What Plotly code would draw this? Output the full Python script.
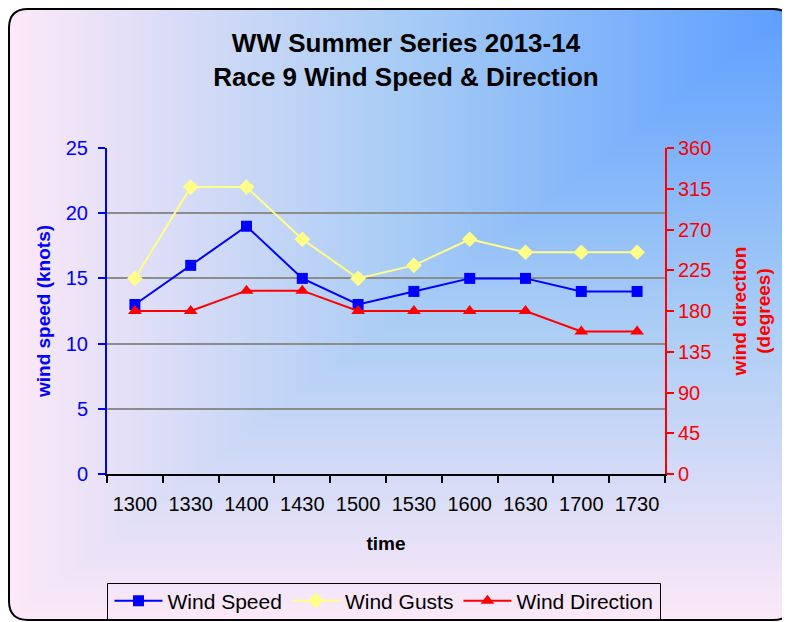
import base64, struct, zlib
import numpy as np
import plotly.graph_objects as go

# ---------------- data ----------------
times = ["1300", "1330", "1400", "1430", "1500", "1530", "1600", "1630", "1700", "1730"]
wind_speed = [13, 16, 19, 15, 13, 14, 15, 15, 14, 14]
wind_gusts = [15, 22, 22, 18, 15, 16, 18, 17, 17, 17]
wind_direction = [180, 180, 202.5, 202.5, 180, 180, 180, 180, 157.5, 157.5]

# ---------------- canvas geometry (figure coords; page has 8px body margin) ----------------
W, H = 790, 614
L, R, T, B = 99, 133, 140, 148
PW, PH = W - L - R, H - T - B
BOX = (1.0, 1.0, 784.0, 612.0, 19.0)  # left, top, right, bottom, corner radius (figure px)


def px_x(x):
    return (x - L) / PW


def px_y(y):
    return (T + PH - y) / PH


def make_background():
    yy, xx = np.mgrid[0:H, 0:W].astype(float) + 0.5
    bx0, by0, bx1, by1, rad = BOX
    cx, cy = (bx0 + bx1) / 2, (by0 + by1) / 2
    hx, hy = (bx1 - bx0) / 2, (by1 - by0) / 2
    qx = np.abs(xx - cx) - hx + rad
    qy = np.abs(yy - cy) - hy + rad
    d = np.hypot(np.maximum(qx, 0), np.maximum(qy, 0)) + np.minimum(np.maximum(qx, qy), 0) - rad
    u = np.clip((xx - bx0) / (bx1 - bx0), 0, 1)
    v = np.clip((yy - by0) / (by1 - by0), 0, 1)
    t = np.clip(1 - np.maximum(1 - u, v), 0, 1)
    stops_t = [0.0, 0.5, 1.0]
    stops_c = np.array([[252, 232, 248], [168, 204, 245], [92, 158, 255]], float)
    rgb = np.stack([np.interp(t, stops_t, stops_c[:, k]) for k in range(3)], axis=-1)
    alpha = np.clip(0.5 - d, 0, 1)
    img = np.concatenate([rgb, alpha[..., None] * 255], axis=-1)
    img = np.clip(np.round(img), 0, 255).astype(np.int16)
    flat = img.reshape(H, W * 4)
    sub = flat.copy()
    sub[:, 4:] = (flat[:, 4:] - flat[:, :-4]) % 256
    raw = np.concatenate([np.ones((H, 1), np.int16), sub], axis=1).astype(np.uint8).tobytes()

    def chunk(tag, data):
        c = struct.pack(">I", len(data)) + tag + data
        return c + struct.pack(">I", zlib.crc32(tag + data) & 0xFFFFFFFF)

    png = b"\x89PNG\r\n\x1a\n" + chunk(b"IHDR", struct.pack(">IIBBBBB", W, H, 8, 6, 0, 0, 0))
    png += chunk(b"IDAT", zlib.compress(raw, 9)) + chunk(b"IEND", b"")
    return "data:image/png;base64," + base64.b64encode(png).decode()


def border_path():
    x0, y0, x1, y1, r = BOX
    pts = lambda x, y: f"{px_x(x):.5f},{px_y(y):.5f}"
    return (f"M{pts(x0 + r, y0)} L{pts(x1 - r, y0)} Q{pts(x1, y0)} {pts(x1, y0 + r)} "
            f"L{pts(x1, y1 - r)} Q{pts(x1, y1)} {pts(x1 - r, y1)} "
            f"L{pts(x0 + r, y1)} Q{pts(x0, y1)} {pts(x0, y1 - r)} "
            f"L{pts(x0, y0 + r)} Q{pts(x0, y0)} {pts(x0 + r, y0)} Z")


FONT = "Liberation Sans, Arial, sans-serif"
BLUE = "#0000ff"
RED = "#ff0000"
YEL = "#ffff88"

fig = go.Figure()
fig.add_trace(go.Scatter(
    x=times, y=wind_speed, name="Wind Speed", mode="lines+markers",
    line=dict(color=BLUE, width=2),
    marker=dict(symbol="square", size=11, color=BLUE), yaxis="y"))
fig.add_trace(go.Scatter(
    x=times, y=wind_gusts, name="Wind Gusts", mode="lines+markers",
    line=dict(color=YEL, width=2),
    marker=dict(symbol="diamond", size=12, color=YEL), yaxis="y"))
fig.add_trace(go.Scatter(
    x=times, y=wind_direction, name="Wind Direction", mode="lines+markers",
    line=dict(color=RED, width=2),
    marker=dict(symbol="triangle-up", size=12, color=RED), yaxis="y2"))

fig.update_layout(
    width=W, height=H,
    margin=dict(l=L, r=R, t=T, b=B, autoexpand=False),
    paper_bgcolor="white", plot_bgcolor="rgba(0,0,0,0)",
    font=dict(family=FONT, size=20, color="black"),
    title=dict(text="<b>WW Summer Series 2013-14<br>Race 9 Wind Speed & Direction</b>",
               x=398 / W, xanchor="center", y=1 - 44 / H, yanchor="middle",
               font=dict(family=FONT, size=26, color="black")),
    showlegend=True,
    legend=dict(orientation="h", x=px_x(376), xanchor="center",
                y=px_y(593), yanchor="middle",
                bgcolor="rgba(0,0,0,0)", borderwidth=0,
                font=dict(family=FONT, size=21, color="black"), itemwidth=48),
    shapes=[dict(type="rect", xref="paper", yref="paper",
                 x0=px_x(99.5), x1=px_x(652.5), y0=px_y(611.5), y1=px_y(575.5),
                 line=dict(color="black", width=1), fillcolor="rgba(0,0,0,0)", layer="above"),
            dict(type="path", xref="paper", yref="paper", path=border_path(),
                 line=dict(color="black", width=2), fillcolor="rgba(0,0,0,0)", layer="above")],
    xaxis=dict(type="category", range=[-0.5, 9.5], showgrid=False, zeroline=False,
               showline=True, linecolor="black", linewidth=2,
               ticks="outside", ticklen=7, tickwidth=1.5, tickcolor="black", tickson="boundaries",
               tickfont=dict(size=20, color="black"), ticklabelstandoff=11,
               title=dict(text="<b>time</b>", font=dict(size=19, color="black"), standoff=23)),
    xaxis2=dict(overlaying="x", anchor="y", range=[-0.5, 9.5], tickvals=[i - 0.5 for i in range(11)],
                ticks="inside", ticklen=6, tickwidth=1.5, tickcolor="black", showticklabels=False,
                showgrid=False, zeroline=False, showline=False, side="bottom"),
    yaxis=dict(range=[0, 25], dtick=5, showgrid=True, gridcolor="#8c8c8c", gridwidth=2,
               zeroline=False, showline=True, linecolor=BLUE, linewidth=2,
               ticks="outside", ticklen=7, tickwidth=1.5, tickcolor=BLUE,
               tickfont=dict(size=20, color=BLUE), ticklabelstandoff=6,
               title=dict(text="<b>wind speed (knots)</b>", font=dict(size=19, color=BLUE), standoff=10)),
    yaxis2=dict(range=[0, 360], dtick=45, overlaying="y", side="right", anchor="x",
                showgrid=False, zeroline=False, showline=True, linecolor=RED, linewidth=2,
                ticks="outside", ticklen=7, tickwidth=1.5, tickcolor=RED,
                tickfont=dict(size=20, color=RED),
                title=dict(text="<b>wind direction<br>(degrees)</b>", font=dict(size=19, color=RED), standoff=22)),
    yaxis3=dict(range=[0, 25], dtick=5, overlaying="y", side="left", anchor="x",
                ticks="inside", ticklen=6, tickwidth=1.5, tickcolor=BLUE, showticklabels=False,
                showgrid=False, zeroline=False, showline=False),
    yaxis4=dict(range=[0, 360], dtick=45, overlaying="y", side="right", anchor="x",
                ticks="inside", ticklen=6, tickwidth=1.5, tickcolor=RED, showticklabels=False,
                showgrid=False, zeroline=False, showline=False),
    images=[dict(source=make_background(), xref="paper", yref="paper",
                 x=-L / PW, y=(PH + T) / PH, sizex=W / PW, sizey=H / PH,
                 xanchor="left", yanchor="top", sizing="stretch", layer="below")],
)

fig.write_html("out.html",
               post_script="document.documentElement.style.overflow='hidden';"
                           "document.body.style.overflow='hidden';")
